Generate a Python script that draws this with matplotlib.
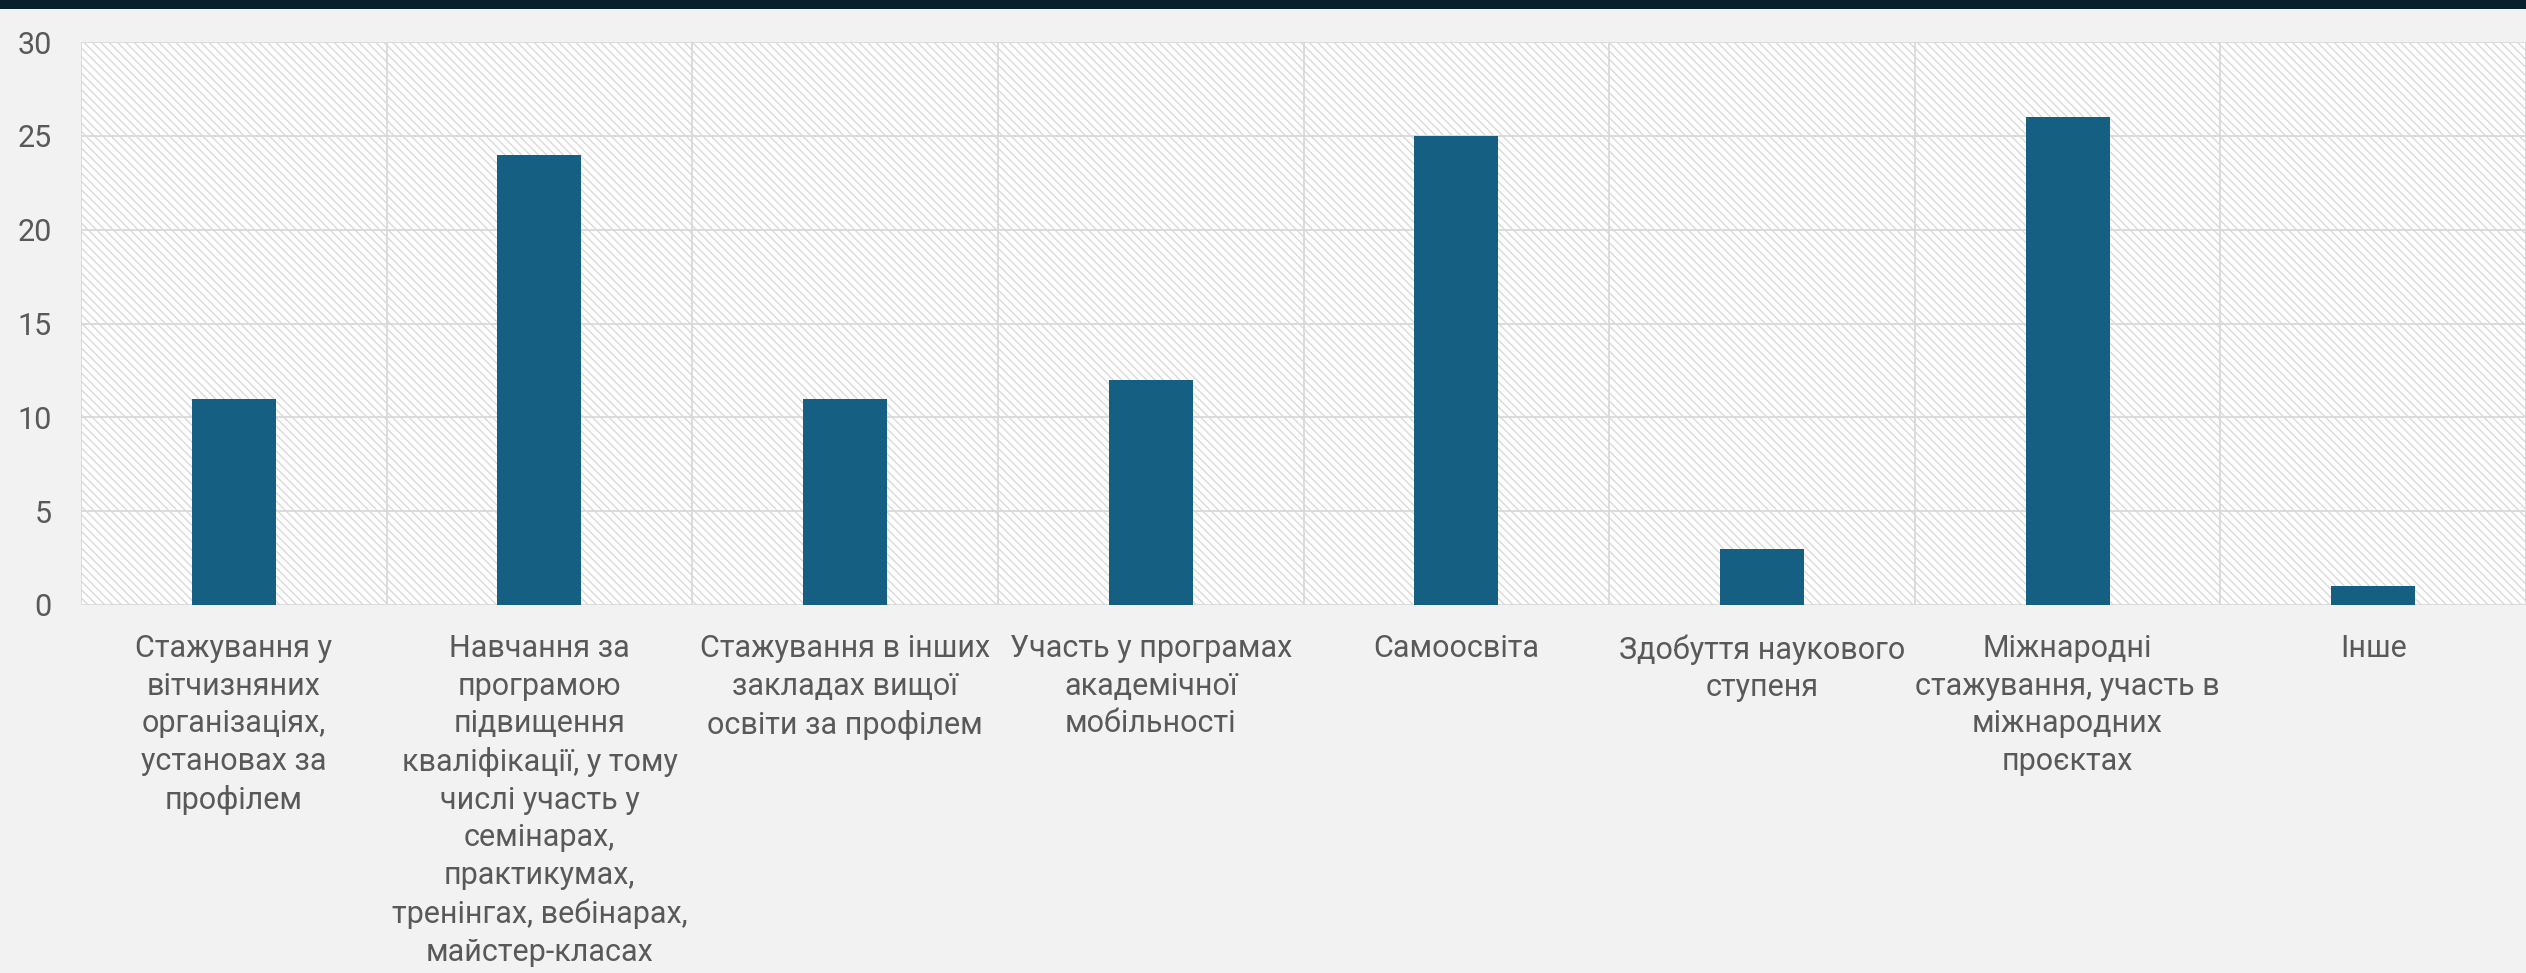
import matplotlib
matplotlib.use("Agg")
import matplotlib.pyplot as plt
from matplotlib.patches import Rectangle
import numpy as np

categories = [
    "Стажування у\nвітчизняних\nорганізаціях,\nустановах за\nпрофілем",
    "Навчання за\nпрограмою\nпідвищення\nкваліфікації, у тому\nчислі участь у\nсемінарах,\nпрактикумах,\nтренінгах, вебінарах,\nмайстер-класах",
    "Стажування в інших\nзакладах вищої\nосвіти за профілем",
    "Участь у програмах\nакадемічної\nмобільності",
    "Самоосвіта",
    "Здобуття наукового\nступеня",
    "Міжнародні\nстажування, участь в\nміжнародних\nпроєктах",
    "Інше",
]
values = [11, 24, 11, 12, 25, 3, 26, 1]
y_ticks = [0, 5, 10, 15, 20, 25, 30]

plt.rcParams['font.family'] = ['Roboto', 'DejaVu Sans']
plt.rcParams['hatch.linewidth'] = 1.0

W, H = 2526, 973
fig = plt.figure(figsize=(W / 100, H / 100), dpi=100, facecolor='#f2f2f2')

# dark top band
fig.patches.append(Rectangle((0, 1 - 9 / H), 1, 9 / H, transform=fig.transFigure,
                             facecolor='#0a1f2c', edgecolor='none', zorder=5))

left, right = 81 / W, 1.0
top, bottom = 42 / H, 605 / H
ax = fig.add_axes([left, 1 - bottom, right - left, bottom - top])
ax.set_facecolor('white')
ax.add_patch(Rectangle((0, 0), 1, 1, transform=ax.transAxes, facecolor='white',
                       edgecolor='#d9d9d9', hatch='\\\\\\\\', lw=0, zorder=0))

x = np.arange(len(categories))
ax.bar(x, values, width=0.275, color='#155f82', zorder=3)

ax.set_xlim(-0.5, len(categories) - 0.5)
ax.set_ylim(0, 30)
ax.set_yticks(y_ticks)
for yv in y_ticks:
    ax.axhline(yv, color='#d9d9d9', lw=1.3, zorder=1)
for b in np.arange(-0.5, len(categories), 1.0):
    ax.axvline(b, color='#d9d9d9', lw=1.3, zorder=1)

for s in ax.spines.values():
    s.set_visible(False)

ax.tick_params(axis='y', length=0, pad=21, labelsize=22, labelcolor='#595959')
ax.set_xticks(x)
ax.set_xticklabels(categories, fontsize=22, color='#595959', linespacing=1.37)
ax.tick_params(axis='x', length=0, pad=21)

fig.savefig('out.png', dpi=100, facecolor=fig.get_facecolor())
